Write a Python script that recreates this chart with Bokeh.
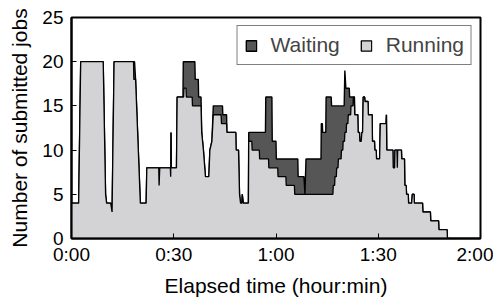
from bokeh.plotting import figure
from bokeh.models import Range1d, FixedTicker, Legend, LegendItem
from bokeh.embed import file_html
from bokeh.resources import INLINE

# running jobs: (minutes, count)
run_t = [0, 2.1, 2.7, 9.3, 10.0, 10.3, 11.5, 11.9, 12.5, 18.2, 18.3, 18.8, 20.2, 21.9, 22.1,
         25.6, 25.7, 25.9, 29.0, 29.1, 29.2, 29.3, 30.8, 31.0, 32.9, 33.0, 33.6, 33.7, 35.4, 35.5,
         38.0, 38.2, 38.7, 39.1, 39.3, 40.3, 40.6, 41.2, 41.6, 43.9, 44.0, 45.5, 45.6, 48.2, 48.3,
         49.0, 49.3, 49.6, 50.0, 50.1, 50.4, 51.9, 52.0, 52.9, 53.0, 55.1, 55.2, 57.8, 57.9, 60.5,
         60.6, 62.9, 63.0, 65.4, 65.5, 76.7, 76.8, 77.2, 77.3, 77.7, 77.8, 78.2, 78.3, 79.1, 79.2,
         79.6, 79.7, 80.1, 80.2, 80.6, 80.7, 81.1, 81.2, 81.9, 82.0, 82.6, 82.7, 83.0, 83.1, 84.0,
         84.1, 84.5, 84.6, 85.0, 85.2, 85.4, 85.6, 86.0, 86.1, 87.0, 87.1, 88.2, 88.3, 88.9, 89.0,
         89.4, 89.5, 90.4, 90.6, 92.3, 92.4, 92.5, 94.3, 94.4, 94.8, 94.9, 95.5, 95.6, 95.7, 96.8,
         96.9, 97.7, 97.8, 98.2, 98.3, 98.8, 98.9, 99.8, 100.0, 100.5, 100.6, 103.0, 103.1, 105.3,
         105.4, 107.7, 107.8, 110.2, 110.3]
run_v = [4, 4, 20, 20, 5, 4, 4, 3, 20, 20, 18, 18, 4, 4, 8,
         8, 6, 8, 8, 7, 12, 8, 8, 16, 16, 17, 17, 16, 16, 15,
         15, 12, 10, 8, 7, 7, 10, 11, 14, 14, 13, 13, 12, 12, 10,
         10, 5, 4, 4, 5, 4, 4, 11, 11, 10, 10, 9, 9, 8, 8,
         7, 7, 6, 6, 5, 5, 6, 6, 7, 7, 8, 8, 9, 9, 10,
         10, 11, 11, 12, 12, 13, 13, 14, 14, 15, 15, 16, 16, 14, 14,
         12, 12, 11, 11, 12, 12, 16, 16, 15.5, 15.5, 14, 14, 11, 11, 10,
         10, 9, 9, 13, 13, 14, 10, 10, 8, 8, 10, 10, 8, 10, 10,
         9, 9, 6, 6, 5, 5, 4, 4, 5, 5, 4, 4, 3, 3,
         2, 2, 1, 1, 0]

# submitted jobs (waiting + running): (minutes, count)
tot_t = [0, 2.1, 2.7, 9.3, 10.0, 10.3, 11.5, 11.9, 12.5, 18.5, 18.8, 20.2, 21.9, 22.1,
         25.6, 25.7, 25.9, 29.0, 29.1, 29.2, 29.3, 30.8, 31.0, 32.7, 32.8, 36.2, 36.3, 37.2, 37.3,
         38.0, 38.2, 38.7, 39.1, 39.3, 40.3, 40.6, 41.2, 41.6, 44.3, 44.4, 45.5, 45.6, 48.2, 48.3,
         49.0, 49.3, 49.6, 50.0, 50.1, 50.4, 51.9, 52.0, 56.9, 57.0, 58.8, 58.9, 60.0, 60.1, 66.4,
         66.5, 68.2, 68.5, 68.8, 73.2, 73.3, 73.6, 73.7, 74.6, 74.7, 76.2, 76.3, 80.0, 80.2, 80.5,
         81.5, 81.6, 83.0, 83.1, 84.0,
         84.1, 84.5, 84.6, 85.0, 85.2, 85.4, 85.6, 86.0, 86.1, 87.0, 87.1, 88.2, 88.3, 88.9, 89.0,
         89.4, 89.5, 90.4, 90.6, 92.3, 92.4, 92.5, 94.3, 94.4, 94.8, 94.9, 95.5, 95.6, 95.7, 96.8,
         96.9, 97.7, 97.8, 98.2, 98.3, 98.8, 98.9, 99.8, 100.0, 100.5, 100.6, 103.0, 103.1, 105.3,
         105.4, 107.7, 107.8, 110.2, 110.3]
tot_v = [4, 4, 20, 20, 5, 4, 4, 3, 20, 20, 18, 4, 4, 8,
         8, 6, 8, 8, 7, 12, 8, 8, 16, 16, 20, 20, 18, 18, 16,
         16, 12, 10, 8, 7, 7, 10, 11, 15, 15, 14, 14, 12, 12, 10,
         10, 5, 4, 4, 5, 4, 4, 12, 12, 16, 16, 11, 11, 9, 9,
         7, 7, 5, 9, 9, 13, 13, 12, 12, 16, 16, 15, 15, 19, 17,
         17, 16, 16, 14, 14,
         12, 12, 11, 11, 12, 12, 16, 16, 15.5, 15.5, 14, 14, 11, 11, 10,
         10, 9, 9, 13, 13, 14, 10, 10, 8, 8, 10, 10, 8, 10, 10,
         9, 9, 6, 6, 5, 5, 4, 4, 5, 5, 4, 4, 3, 3,
         2, 2, 1, 1, 0]

x_ticks = [0, 30, 60, 90, 120]
x_tick_labels = ["0:00", "0:30", "1:00", "1:30", "2:00"]
y_ticks = [0, 5, 10, 15, 20, 25]

FONT = "Liberation Sans"

p = figure(width=493, height=299, output_backend="svg", toolbar_location=None,
           x_range=Range1d(0, 120), y_range=Range1d(0, 25),
           min_border_left=71, min_border_right=13, min_border_top=17, min_border_bottom=57)

dark = p.patch([run_t[0]] + tot_t + [tot_t[-1]], [0] + tot_v + [0],
               fill_color="#565656", line_color="black", line_width=1.4)
light = p.patch([run_t[0]] + run_t + [run_t[-1]], [0] + run_v + [0],
                fill_color="#d3d3d5", line_color="black", line_width=1.3)

p.xgrid.visible = False
p.ygrid.visible = False
p.outline_line_color = "black"
p.outline_line_width = 2
p.outline_line_alpha = 1

for ax in (p.xaxis[0], p.yaxis[0]):
    ax.axis_line_width = 2
    ax.axis_line_color = "black"
    ax.major_tick_in = 5
    ax.major_tick_out = 0
    ax.major_tick_line_width = 1
    ax.minor_tick_line_color = None
    ax.major_label_text_font = FONT
    ax.major_label_text_font_size = "19px"
    ax.major_label_text_color = "black"
    ax.axis_label_text_font = FONT
    ax.axis_label_text_font_size = "21px"
    ax.axis_label_text_font_style = "normal"
    ax.axis_label_text_color = "black"

p.xaxis.ticker = FixedTicker(ticks=x_ticks)
p.xaxis.major_label_overrides = dict(zip(x_ticks, x_tick_labels))
p.xaxis.axis_label = "Elapsed time (hour:min)"
p.xaxis.axis_label_standoff = 6
p.xaxis.major_label_standoff = 5
p.yaxis.ticker = FixedTicker(ticks=y_ticks)
p.yaxis.axis_label = "Number of submitted jobs"
p.yaxis.axis_label_standoff = 8
p.yaxis.major_label_standoff = 8

legend = Legend(items=[LegendItem(label="Waiting", renderers=[dark]),
                       LegendItem(label="Running", renderers=[light])],
                location="top_right", orientation="horizontal",
                label_text_font=FONT, label_text_font_size="21px",
                glyph_width=13, glyph_height=13, spacing=20, padding=7, margin=8,
                label_standoff=13, border_line_color="black", border_line_width=1,
                background_fill_alpha=1)
p.add_layout(legend)

open("out.html", "w").write(file_html(p, INLINE))
